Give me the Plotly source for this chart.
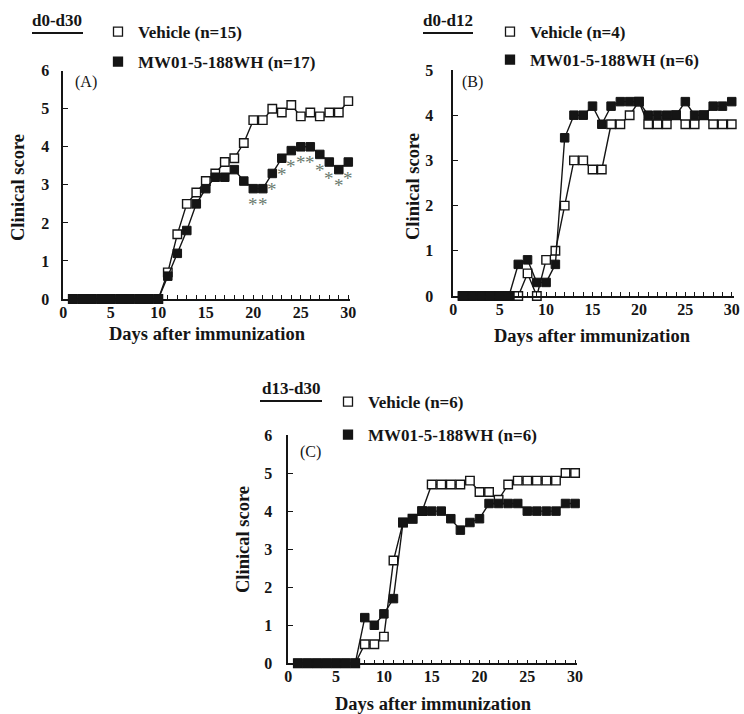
import plotly.graph_objects as go

# ---------------- data ----------------
days = [1, 2, 3, 4, 5, 6, 7, 8, 9, 10, 11, 12, 13, 14, 15,
        16, 17, 18, 19, 20, 21, 22, 23, 24, 25, 26, 27, 28, 29, 30]

veh_A = [0, 0, 0, 0, 0, 0, 0, 0, 0, 0, 0.7, 1.7, 2.5, 2.8, 3.1,
         3.3, 3.6, 3.7, 4.1, 4.7, 4.7, 5.0, 4.9, 5.1, 4.8, 4.9, 4.8, 4.9, 4.9, 5.2]
mw_A = [0, 0, 0, 0, 0, 0, 0, 0, 0, 0, 0.6, 1.2, 1.8, 2.5, 2.9,
        3.2, 3.2, 3.4, 3.1, 2.9, 2.9, 3.3, 3.7, 3.9, 4.0, 4.0, 3.8, 3.6, 3.4, 3.6]
sig_days_A = [20, 21, 22, 23, 24, 25, 26, 27, 28, 29, 30]

veh_B = [0, 0, 0, 0, 0, 0, 0, 0.5, 0, 0.8, 1.0, 2.0, 3.0, 3.0, 2.8,
         2.8, 3.8, 3.8, 4.0, 4.3, 3.8, 3.8, 3.8, 4.0, 3.8, 3.8, 4.0, 3.8, 3.8, 3.8]
mw_B = [0, 0, 0, 0, 0, 0, 0.7, 0.8, 0.3, 0.3, 0.7, 3.5, 4.0, 4.0, 4.2,
        3.8, 4.2, 4.3, 4.3, 4.3, 4.0, 4.0, 4.0, 4.0, 4.3, 4.0, 4.0, 4.2, 4.2, 4.3]

veh_C = [0, 0, 0, 0, 0, 0, 0, 0.5, 0.5, 0.7, 2.7, 3.7, 3.8, 4.0, 4.7,
         4.7, 4.7, 4.7, 4.8, 4.5, 4.5, 4.3, 4.7, 4.8, 4.8, 4.8, 4.8, 4.8, 5.0, 5.0]
mw_C = [0, 0, 0, 0, 0, 0, 0, 1.2, 1.0, 1.3, 1.7, 3.7, 3.8, 4.0, 4.0,
        4.0, 3.8, 3.5, 3.7, 3.8, 4.2, 4.2, 4.2, 4.2, 4.0, 4.0, 4.0, 4.0, 4.2, 4.2]

panel_titles = ["d0-d30", "d0-d12", "d13-d30"]
panel_tags = ["(A)", "(B)", "(C)"]
veh_names = ["Vehicle (n=15)", "Vehicle (n=4)", "Vehicle (n=6)"]
mw_names = ["MW01-5-188WH (n=17)", "MW01-5-188WH (n=6)", "MW01-5-188WH (n=6)"]
x_ticks = [0, 5, 10, 15, 20, 25, 30]
y_ticks_A = [0, 1, 2, 3, 4, 5, 6]
y_ticks_B = [0, 1, 2, 3, 4, 5]
y_ticks_C = [0, 1, 2, 3, 4, 5, 6]

# ---------------- layout helpers ----------------
W, H = 744, 714
SERIF = "Liberation Serif"
INK = "#151515"

def px(x):
    return x / W

def py(y):
    return 1 - y / H

fig = go.Figure()

panels = [
    dict(s="", veh=veh_A, mw=mw_A, ymax=6, yt=y_ticks_A, xp=(63.3, 350.2), yp=(299, 70.7), so=9),
    dict(s="2", veh=veh_B, mw=mw_B, ymax=5, yt=y_ticks_B, xp=(453.3, 733.6), yp=(296, 70), so=15),
    dict(s="3", veh=veh_C, mw=mw_C, ymax=6, yt=y_ticks_C, xp=(288.3, 577.0), yp=(663.3, 435), so=11),
]

for i, p in enumerate(panels):
    xa = "x" + p["s"]
    ya = "y" + p["s"]
    fig.add_trace(go.Scatter(
        x=days, y=p["veh"], xaxis=xa, yaxis=ya, mode="lines+markers",
        line=dict(color=INK, width=1.4), cliponaxis=False, showlegend=False,
        marker=dict(symbol="square", size=8.5, color="white", line=dict(color=INK, width=1.4)),
    ))
    fig.add_trace(go.Scatter(
        x=days, y=p["mw"], xaxis=xa, yaxis=ya, mode="lines+markers",
        line=dict(color=INK, width=1.4), cliponaxis=False, showlegend=False,
        marker=dict(symbol="square", size=8.5, color=INK, line=dict(color=INK, width=1)),
    ))

    axis_common = dict(
        showgrid=False, zeroline=False, showline=True, linecolor=INK, linewidth=1.6,
        ticks="inside", tickcolor=INK, tickwidth=1.3,
        tickfont=dict(family=SERIF, size=16, color=INK, weight="bold"),
    )
    fig.update_layout(**{
        "xaxis" + p["s"]: dict(
            axis_common, anchor=ya, range=[0, 30.2], tickvals=x_ticks, ticklen=4,
            domain=[px(p["xp"][0]), px(p["xp"][1])], ticklabelstandoff=-2,
            minor=dict(dtick=1, tick0=0, ticks="inside", ticklen=4, tickcolor=INK, tickwidth=1.2),
        ),
        "yaxis" + p["s"]: dict(
            axis_common, anchor=xa, range=[0, p["ymax"]], tickvals=p["yt"], ticklen=5,
            ticklabelstandoff=p["so"],
            domain=[py(p["yp"][0]), py(p["yp"][1])],
        ),
    })

annotations = []
shapes = []

# significance asterisks (panel A), placed just below each treated-group point
for d in sig_days_A:
    annotations.append(dict(
        text="*", x=d, y=mw_A[days.index(d)], xref="x", yref="y", showarrow=False,
        xanchor="center", yanchor="middle", yshift=-16,
        font=dict(family=SERIF, size=19, color="#6b7a6e"),
    ))

# legends: one per entry, positioned like the original
legend_pos = [((118, 32), (118, 62)), ((510, 32), (510, 60)), ((348, 402), (348, 435))]
leg_layout = {}
k = 1
for i in range(3):
    for j, (name, fill) in enumerate([(veh_names[i], "white"), (mw_names[i], INK)]):
        lname = "legend" if k == 1 else "legend%d" % k
        fig.add_trace(go.Scatter(
            x=[None], y=[None], mode="markers", name=name, legend=lname,
            marker=dict(symbol="square", size=9, color=fill, line=dict(color=INK, width=1.3)),
        ))
        (lx, ly) = legend_pos[i][j]
        leg_layout[lname] = dict(
            x=px(lx - 20), y=py(ly), xanchor="left", yanchor="middle",
            bgcolor="rgba(0,0,0,0)", borderwidth=0,
            font=dict(family=SERIF, size=17, color=INK, weight="bold"),
        )
        k += 1
fig.update_layout(**leg_layout)

# panel titles with underline
title_pos = [(57, 20, 32, 83), (448, 20, 423, 473), (291, 389, 260, 322)]
under_y = [33, 33, 401]
for i, (cx, cy, x0, x1) in enumerate(title_pos):
    annotations.append(dict(
        text=panel_titles[i], x=px(cx), y=py(cy), xref="paper", yref="paper",
        showarrow=False, xanchor="center", yanchor="middle",
        font=dict(family=SERIF, size=17, color=INK, weight="bold"),
    ))
    shapes.append(dict(type="line", xref="paper", yref="paper",
                       x0=px(x0), x1=px(x1), y0=py(under_y[i]), y1=py(under_y[i]),
                       line=dict(color=INK, width=2)))

# panel tags
tag_pos = [(73, 82), (460, 82), (298, 452)]
for i, (tx, ty) in enumerate(tag_pos):
    annotations.append(dict(
        text=panel_tags[i], x=px(tx), y=py(ty), xref="paper", yref="paper",
        showarrow=False, xanchor="left", yanchor="middle",
        font=dict(family=SERIF, size=16, color=INK),
    ))

# axis titles
xt_pos = [(208, 334), (592, 336), (433, 704)]
yt_pos = [(18, 188), (413, 186), (243, 540)]
for i in range(3):
    annotations.append(dict(
        text="Days after immunization", x=px(xt_pos[i][0]), y=py(xt_pos[i][1]),
        xref="paper", yref="paper", showarrow=False, xanchor="center", yanchor="middle",
        font=dict(family=SERIF, size=18.5, color=INK, weight="bold"),
    ))
    annotations.append(dict(
        text="Clinical score", x=px(yt_pos[i][0]), y=py(yt_pos[i][1]), textangle=-90,
        xref="paper", yref="paper", showarrow=False, xanchor="center", yanchor="middle",
        font=dict(family=SERIF, size=18.5, color=INK, weight="bold"),
    ))

fig.update_layout(
    width=W, height=H, margin=dict(l=0, r=0, t=0, b=0, autoexpand=False),
    paper_bgcolor="white", plot_bgcolor="white",
    annotations=annotations, shapes=shapes,
)

fig.write_html(
    "out.html",
    config={"displayModeBar": False},
    post_script="document.body.style.margin='0';document.body.style.overflow='hidden';",
)
